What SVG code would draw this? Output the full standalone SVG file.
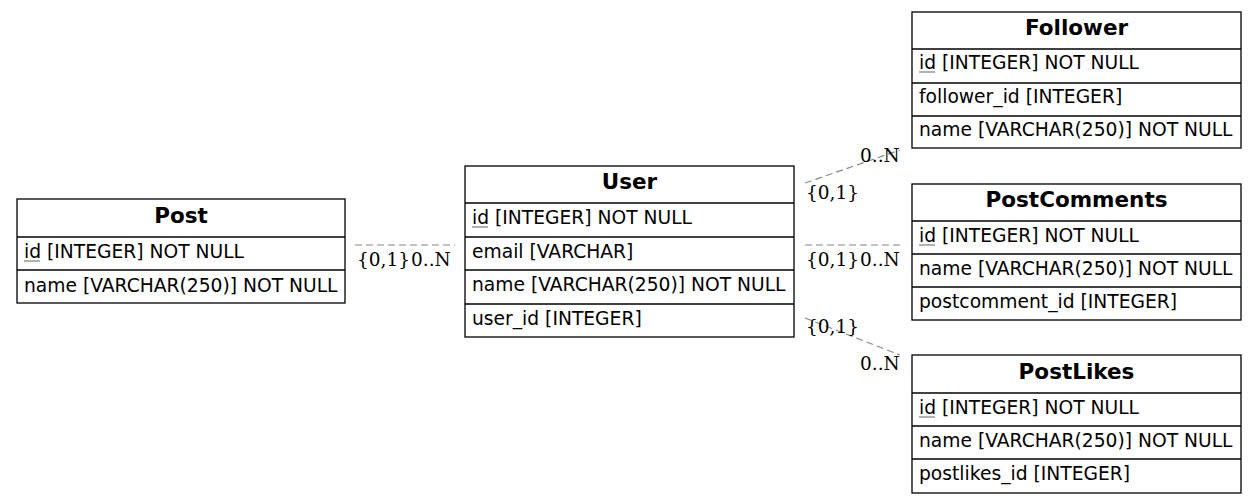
<svg xmlns="http://www.w3.org/2000/svg" width="1257" height="503" viewBox="0 0 1257 503">
<style>
.box{fill:none;stroke:#000;stroke-width:1.3}
.sep{stroke:#000;stroke-width:1.3}
.h{font-family:"DejaVu Sans",sans-serif;font-weight:bold;font-size:21.5px;text-anchor:middle;fill:#000}
.t{font-family:"DejaVu Sans",sans-serif;font-size:18.7px;fill:#000}
.u{stroke:#666;stroke-width:1}
.e{fill:none;stroke:#888;stroke-width:1.2;stroke-dasharray:7,4}
.l{font-family:"DejaVu Serif",serif;font-size:18.5px;fill:#000}
</style>
<rect width="1257" height="503" fill="#fff"/>
<g id="edges">
<path class="e" d="M355,245 L455,245"/>
<path class="e" d="M805,183 L900,150"/>
<path class="e" d="M805,245 L900,245"/>
<path class="e" d="M805,318 L900,355"/>
<text class="l" x="357" y="266">{0,1}</text>
<text class="l" x="411" y="266">0..N</text>
<text class="l" x="806" y="199">{0,1}</text>
<text class="l" x="860" y="162">0..N</text>
<text class="l" x="806" y="266">{0,1}</text>
<text class="l" x="860" y="266">0..N</text>
<text class="l" x="806" y="333">{0,1}</text>
<text class="l" x="860" y="370">0..N</text>
</g>
<g id="Post">
<rect class="box" x="17" y="199" width="328" height="104"/>
<line class="sep" x1="17" y1="237" x2="345" y2="237"/>
<line class="sep" x1="17" y1="270" x2="345" y2="270"/>
<text class="h" x="181" y="223">Post</text>
<text class="t" x="24" y="258">id [INTEGER] NOT NULL</text>
<line class="u" x1="24" y1="261" x2="40" y2="261"/>
<text class="t" x="24" y="292">name [VARCHAR(250)] NOT NULL</text>
</g>
<g id="User">
<rect class="box" x="465" y="166" width="329" height="171"/>
<line class="sep" x1="465" y1="203" x2="794" y2="203"/>
<line class="sep" x1="465" y1="237" x2="794" y2="237"/>
<line class="sep" x1="465" y1="270" x2="794" y2="270"/>
<line class="sep" x1="465" y1="304" x2="794" y2="304"/>
<text class="h" x="629.5" y="189">User</text>
<text class="t" x="472" y="224">id [INTEGER] NOT NULL</text>
<line class="u" x1="472" y1="227" x2="488" y2="227"/>
<text class="t" x="472" y="258">email [VARCHAR]</text>
<text class="t" x="472" y="291">name [VARCHAR(250)] NOT NULL</text>
<text class="t" x="472" y="325">user_id [INTEGER]</text>
</g>
<g id="Follower">
<rect class="box" x="912" y="12" width="329" height="136"/>
<line class="sep" x1="912" y1="49" x2="1241" y2="49"/>
<line class="sep" x1="912" y1="83" x2="1241" y2="83"/>
<line class="sep" x1="912" y1="116" x2="1241" y2="116"/>
<text class="h" x="1076.5" y="35">Follower</text>
<text class="t" x="919" y="69">id [INTEGER] NOT NULL</text>
<line class="u" x1="919" y1="72" x2="935" y2="72"/>
<text class="t" x="919" y="103">follower_id [INTEGER]</text>
<text class="t" x="919" y="136">name [VARCHAR(250)] NOT NULL</text>
</g>
<g id="PostComments">
<rect class="box" x="912" y="184" width="329" height="136"/>
<line class="sep" x1="912" y1="221" x2="1241" y2="221"/>
<line class="sep" x1="912" y1="254" x2="1241" y2="254"/>
<line class="sep" x1="912" y1="287" x2="1241" y2="287"/>
<text class="h" x="1076.5" y="207">PostComments</text>
<text class="t" x="919" y="242">id [INTEGER] NOT NULL</text>
<line class="u" x1="919" y1="245" x2="935" y2="245"/>
<text class="t" x="919" y="275">name [VARCHAR(250)] NOT NULL</text>
<text class="t" x="919" y="308">postcomment_id [INTEGER]</text>
</g>
<g id="PostLikes">
<rect class="box" x="912" y="355" width="329" height="138"/>
<line class="sep" x1="912" y1="393" x2="1241" y2="393"/>
<line class="sep" x1="912" y1="426" x2="1241" y2="426"/>
<line class="sep" x1="912" y1="459" x2="1241" y2="459"/>
<text class="h" x="1076.5" y="379">PostLikes</text>
<text class="t" x="919" y="414">id [INTEGER] NOT NULL</text>
<line class="u" x1="919" y1="417" x2="935" y2="417"/>
<text class="t" x="919" y="447">name [VARCHAR(250)] NOT NULL</text>
<text class="t" x="919" y="480">postlikes_id [INTEGER]</text>
</g>
</svg>
